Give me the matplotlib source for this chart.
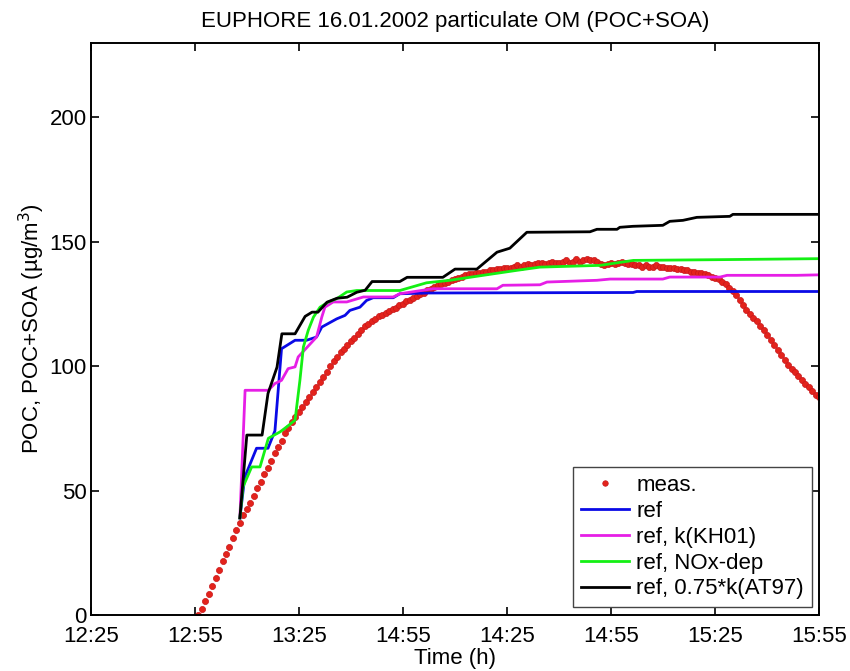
import numpy as np
import matplotlib
matplotlib.use('Agg')
import matplotlib.pyplot as plt

plt.rcParams['font.family'] = ['Liberation Sans', 'DejaVu Sans']

# time axis: minutes after 12:25
tick_pos = [0, 30, 60, 90, 120, 150, 180, 210]
tick_lab = ['12:25', '12:55', '13:25', '14:55', '14:25', '14:55', '15:25', '15:55']

# measured POC+SOA, one value per minute starting at t = 31 min
meas_t0 = 31
meas_val = [0, 2.5, 5.5, 8.5, 11.5, 15, 18, 21.5, 24.5, 27.5,
            31, 34, 37, 40, 42.5, 45, 48, 51, 53.5, 56.5,
            59, 62, 65, 67.5, 70, 73, 75, 77.5, 79.5, 81.5,
            83.5, 85.5, 87.5, 89.5, 91.5, 93.5, 95.5, 97.5, 100, 102,
            103.5, 105.5, 107, 108.5, 110, 111.5, 113, 114.5, 116, 117,
            118, 119, 120, 120.5, 121.5, 122, 123, 123.5, 124.5, 125,
            126, 126.5, 127.5, 128, 129, 129.5, 130.5, 131, 132, 132.5,
            133, 133.5, 134, 134.5, 135, 135.5, 136, 136.5, 137, 137,
            137.5, 137.5, 138, 138, 138.5, 138.5, 139, 139, 139.5, 139.5,
            139.5, 140, 140.5, 140, 140.5, 141, 140.5, 141, 141.5, 141.5,
            141, 141.5, 142, 141.5, 141.5, 142, 142.5, 141.5, 142, 143,
            142, 142.5, 143, 142.5, 142.5, 142, 141, 140.5, 141, 141.5,
            141, 141.5, 142, 141.5, 141, 141, 140.5, 140.5, 140, 140.5,
            140, 140, 140.5, 140, 140, 139.5, 139.5, 139.5, 139, 139,
            138.5, 138.5, 138, 138, 137.5, 137.5, 137, 136.5, 136, 135.5,
            135, 134, 133, 131.5, 130, 128.5, 126.5, 124.5, 122.5, 121,
            119.5, 118, 116, 114.5, 112.5, 110.5, 108.5, 106.5, 104.5, 102.5,
            100.5, 99, 97.5, 96, 94.5, 93, 91.5, 90, 88.5, 87.5]

# model runs (vertices of the step-like curves)
ref_t = [43.0, 44.4, 47.8, 51.1, 53.1, 55.0, 58.9, 62.2, 65.1, 66.6, 70.9,
         73.3, 74.7, 77.6, 79.5, 81.4, 87.2, 89.1, 97.8, 156.3, 157.4, 210.2]
ref_v = [39, 55.4, 67, 67, 74, 107, 110.4, 110.4, 111.7, 115.7, 119,
         120.4, 122.4, 123.7, 126.4, 127.5, 127.5, 129.1, 129.4, 129.6, 130, 130]

kh01_t = [43.0, 44.5, 51.2, 53.1, 55.0, 56.9, 58.9, 59.8, 65.1, 66.6, 67.5,
          69.9, 73.8, 78.6, 87.2, 89.1, 98.6, 117.1, 118.8, 129.5, 131.5,
          145.9, 149.7, 164.9, 166.9, 181.4, 183.4, 203.5, 210.2]
kh01_v = [39, 90.3, 90.3, 93, 94.3, 99, 99.7, 103.7, 111.7, 119.7, 123.7,
          125.8, 125.8, 127.8, 127.8, 129.1, 131.1, 131.1, 132.5, 132.7, 133.8,
          134.5, 135, 135, 135.8, 135.8, 136.5, 136.5, 136.7]

nox_t = [43.0, 43.9, 46.4, 48.8, 51.2, 54.6, 56.5, 58.9, 60.3, 61.3, 62.7,
         64.2, 66.1, 68.5, 70.9, 73.8, 76.7, 89.1, 96.8, 103.5, 113.1, 122.8,
         129.5, 146.8, 156.4, 181.4, 210.2]
nox_v = [39, 51.5, 59.5, 59.5, 71, 73.6, 75.6, 78.3, 94.3, 107.7, 114.4,
         119.7, 123.7, 125.8, 127.1, 129.8, 130.4, 130.4, 133.5, 134.5, 136.5, 138.5,
         139.8, 140.5, 142.5, 142.8, 143.2]

at97_t = [43.0, 45.0, 49.4, 51.1, 53.7, 55.1, 58.9, 61.8, 63.8, 65.5, 68.1,
          71.0, 73.9, 76.7, 79.1, 81.1, 89.1, 91.2, 101.5, 105.0, 111.3, 117.1,
          120.8, 125.7, 143.9, 145.9, 151.7, 152.5, 156.3, 164.9, 166.9, 170.7,
          174.7, 184.2, 185.1, 210.2]
at97_v = [39, 72.3, 72.3, 89, 99.6, 113, 113, 120, 121.7, 121.7, 125.7,
          127.3, 127.7, 129.7, 130.5, 134, 134, 135.7, 135.7, 139, 139, 145.8,
          147.4, 153.8, 154, 155, 155, 155.8, 156.2, 156.6, 158.2, 158.6,
          159.8, 160.2, 161, 161]

fig = plt.figure(figsize=(8.5, 6.71), dpi=100)
ax = fig.add_axes([0.1067, 0.0835, 0.8572, 0.8529])

meas_t = meas_t0 + np.arange(len(meas_val))
ax.plot(meas_t, meas_val, 'o', color='#e3231c', mec='#c8161a', ms=4.4, mew=0.5,
        label='meas.')
ax.plot(ref_t, ref_v, color='#0a0ae6', lw=2, label='ref')
ax.plot(kh01_t, kh01_v, color='#e61ee6', lw=2, label='ref, k(KH01)')
ax.plot(nox_t, nox_v, color='#14f014', lw=2, label='ref, NOx-dep')
ax.plot(at97_t, at97_v, color='black', lw=2, label='ref, 0.75*k(AT97)')

ax.set_xlim(0, 210)
ax.set_ylim(0, 230)
ax.set_xticks(tick_pos)
ax.set_xticklabels(tick_lab)
ax.set_yticks([0, 50, 100, 150, 200])
ax.tick_params(direction='in', length=6, width=1.2, top=True, right=True,
               labelsize=16)
ax.tick_params(axis='x', pad=8)
ax.tick_params(axis='y', pad=3)
for s in ax.spines.values():
    s.set_linewidth(1.4)

ax.set_title('EUPHORE 16.01.2002 particulate OM (POC+SOA)', fontsize=16, pad=11)
ax.set_xlabel('Time (h)', fontsize=16, labelpad=1)
ax.set_ylabel('POC, POC+SOA (µg/m$^3$)', fontsize=16, labelpad=2)

leg = ax.legend(loc='lower right', fontsize=16, numpoints=1, fancybox=False,
                framealpha=1, edgecolor='#444444', handlelength=2.2,
                handletextpad=0.3, labelspacing=0.22, borderaxespad=0.35,
                borderpad=0.35, markerscale=0.9)
leg.get_frame().set_linewidth(1.0)

fig.savefig('out.png', dpi=100)
